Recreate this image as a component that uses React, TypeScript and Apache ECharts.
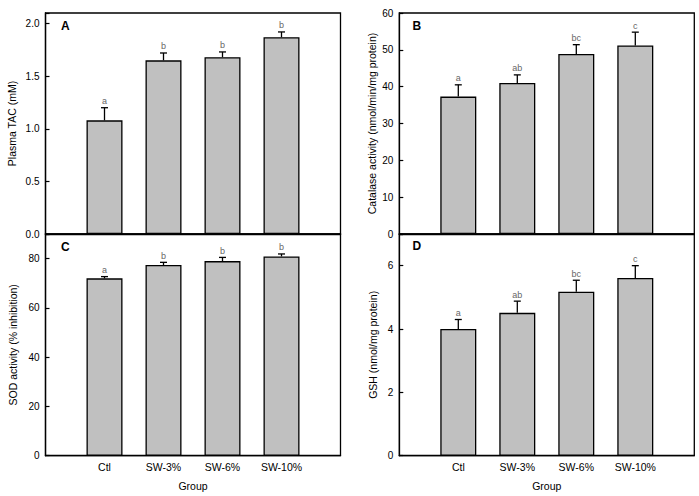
import React, { useEffect, useRef } from "react";
import * as echarts from "echarts";

const groups = ["Ctl", "SW-3%", "SW-6%", "SW-10%"];

const tacMean = [1.08, 1.65, 1.68, 1.87];
const tacErr = [0.12, 0.07, 0.05, 0.05];
const tacLetters = ["a", "b", "b", "b"];

const catMean = [37.3, 41.0, 48.9, 51.2];
const catErr = [3.2, 2.2, 2.5, 3.6];
const catLetters = ["a", "ab", "bc", "c"];

const sodMean = [72.0, 77.4, 79.0, 80.9];
const sodErr = [0.7, 1.1, 1.5, 1.0];
const sodLetters = ["a", "b", "b", "b"];

const gshMean = [4.0, 4.51, 5.18, 5.61];
const gshErr = [0.3, 0.37, 0.36, 0.39];
const gshLetters = ["a", "ab", "bc", "c"];

const FONT = "Liberation Sans, Arial, sans-serif";

const panels = [
  { mean: tacMean, err: tacErr, letters: tacLetters, yMax: 2.1, yInterval: 0.5, dec: 1, yName: "Plasma TAC (mM)", nameGap: 28, tag: "A", grid: { left: 45.5, top: 13, width: 295, height: 221 }, bottom: false },
  { mean: catMean, err: catErr, letters: catLetters, yMax: 60, yInterval: 10, dec: 0, yName: "Catalase activity (nmol/min/mg protein)", nameGap: 22, tag: "B", grid: { left: 399.3, top: 13, width: 295, height: 221 }, bottom: false },
  { mean: sodMean, err: sodErr, letters: sodLetters, yMax: 90, yInterval: 20, dec: 0, yName: "SOD activity (% inhibition)", nameGap: 27, tag: "C", grid: { left: 45.5, top: 234, width: 295, height: 221.7 }, bottom: true },
  { mean: gshMean, err: gshErr, letters: gshLetters, yMax: 7, yInterval: 2, dec: 0, yName: "GSH (nmol/mg protein)", nameGap: 21, tag: "D", grid: { left: 399.3, top: 234, width: 295, height: 221.7 }, bottom: true },
];

export default function App() {
  const ref = useRef<HTMLDivElement>(null);
  useEffect(() => {
    if (!ref.current) return;
    const chart = echarts.init(ref.current, null, { renderer: "svg" });
    const grid: any[] = [];
    const xAxis: any[] = [];
    const yAxis: any[] = [];
    const series: any[] = [];
    const graphic: any[] = [];
    panels.forEach((p, i) => {
      grid.push({ ...p.grid, show: true, borderColor: "#000", borderWidth: 1.3, containLabel: false });
      xAxis.push({
        type: "value",
        gridIndex: i,
        min: 0,
        max: 5,
        interval: 1,
        splitLine: { show: false },
        axisTick: { show: false },
        axisLine: { show: true, lineStyle: { color: "#000", width: 1.3 } },
        axisLabel: {
          show: p.bottom,
          color: "#000",
          fontFamily: FONT,
          fontSize: 10.5,
          margin: 6,
          formatter: (v: number) => groups[v - 1] ?? "",
        },
        name: p.bottom ? "Group" : "",
        nameLocation: "middle",
        nameGap: 25,
        nameTextStyle: { color: "#000", fontFamily: FONT, fontSize: 10.5 },
      });
      yAxis.push({
        type: "value",
        gridIndex: i,
        min: 0,
        max: p.yMax,
        interval: p.yInterval,
        splitLine: { show: false },
        axisLine: { show: true, lineStyle: { color: "#000", width: 1.3 } },
        axisTick: { show: true, inside: true, length: 4, lineStyle: { color: "#000", width: 1.2 } },
        axisLabel: {
          color: "#000",
          fontFamily: FONT,
          fontSize: 10,
          margin: 6,
          formatter: (v: number) => {
            const r = v / p.yInterval;
            if (Math.abs(r - Math.round(r)) > 1e-6) return "";
            return v.toFixed(p.dec);
          },
        },
        name: p.yName,
        nameLocation: "middle",
        nameGap: p.nameGap,
        nameTextStyle: { color: "#000", fontFamily: FONT, fontSize: 10.5 },
      });
      series.push({
        type: "bar",
        xAxisIndex: i,
        yAxisIndex: i,
        barWidth: 36,
        data: p.mean.map((m, k) => [k + 1, m]),
        itemStyle: { color: "#c0c0c0", borderColor: "#000", borderWidth: 1.3 },
        z: 2,
      });
      series.push({
        type: "custom",
        xAxisIndex: i,
        yAxisIndex: i,
        data: p.mean.map((m, k) => [k + 1, m, p.err[k]]),
        z: 3,
        renderItem: (params: any, api: any) => {
          const x = api.value(0);
          const m = api.value(1);
          const e = api.value(2);
          const base = api.coord([x, m]);
          const top = api.coord([x, m + e]);
          const letter = p.letters[params.dataIndex];
          return {
            type: "group",
            children: [
              { type: "line", shape: { x1: base[0], y1: base[1], x2: top[0], y2: top[1] }, style: { stroke: "#000", lineWidth: 1.3 } },
              { type: "line", shape: { x1: top[0] - 3.5, y1: top[1], x2: top[0] + 3.5, y2: top[1] }, style: { stroke: "#000", lineWidth: 1.3 } },
              { type: "text", x: top[0], y: top[1] - 2, style: { text: letter, fill: "#666", font: `9px ${FONT}`, align: "center", verticalAlign: "bottom" } },
            ],
          };
        },
      });
    });
    const tags = [
      { t: "A", x: 61, y: 25.7 },
      { t: "B", x: 412.5, y: 25.7 },
      { t: "C", x: 61, y: 246.7 },
      { t: "D", x: 412.5, y: 246.3 },
    ];
    tags.forEach((g) =>
      graphic.push({
        type: "text",
        x: g.x,
        y: g.y,
        style: { text: g.t, fill: "#000", font: `bold 12px ${FONT}`, verticalAlign: "middle", align: "left" },
      })
    );
    chart.setOption({ animation: false, grid, xAxis, yAxis, series, graphic });
    return () => chart.dispose();
  }, []);
  return <div ref={ref} style={{ position: "fixed", left: 0, top: 0, width: 699, height: 496, background: "#fff" }} />;
}
